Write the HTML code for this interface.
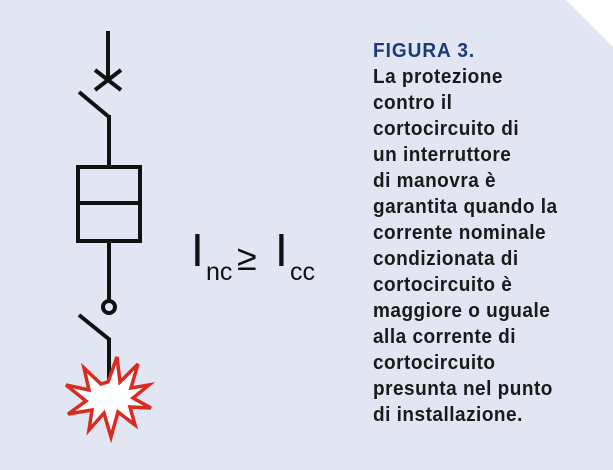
<!DOCTYPE html>
<html><head><meta charset="utf-8"><style>
html,body{margin:0;padding:0;background:#fff}
svg{display:block}
</style></head><body>
<svg width="613" height="470" viewBox="0 0 613 470" xmlns="http://www.w3.org/2000/svg">
<polygon points="0,0 566,0 613,47 613,470 0,470" fill="#e1e6f2"/>
<g stroke="#111" stroke-width="4" fill="none" stroke-linecap="butt">
<line x1="108" y1="31" x2="108" y2="80"/>
<line x1="95" y1="70" x2="121" y2="90"/>
<line x1="95" y1="90" x2="121" y2="70"/>
<line x1="79" y1="92" x2="109" y2="117"/>
<line x1="109" y1="115" x2="109" y2="167"/>
<rect x="78" y="167" width="62" height="74"/>
<line x1="78" y1="203" x2="140" y2="203"/>
<line x1="109" y1="241" x2="109" y2="300"/>
<circle cx="109" cy="307" r="6"/>
<line x1="79" y1="315" x2="110" y2="340"/>
<line x1="109" y1="338" x2="109" y2="385"/>
</g>
<polygon fill="#fff" stroke="#d92b1f" stroke-width="3.5" stroke-linejoin="miter" points="
108,382 117,357 120,382 138,364 131,388 149,385 133,398 151,408 130,407 135,425 118,412 111,437 104,413 89,430 92,410 68,414 86,401 66,385 89,390 84,368 101,384"/>
<g font-family="Liberation Sans, Arial, sans-serif" fill="#111">
<text x="191" y="266" font-size="46">I</text>
<text x="206" y="280" font-size="25">nc</text>
<text x="237" y="270" font-size="36">≥</text>
<text x="275" y="266" font-size="46">I</text>
<text x="290" y="280" font-size="25">cc</text>
</g>
<g font-family="Liberation Sans, Arial, sans-serif" font-weight="bold" font-size="19" fill="#1a1a1a" letter-spacing="0.5" transform="translate(373,0) scale(1,1.06)">
<text x="0" y="54" fill="#1c3a78" letter-spacing="1">FIGURA 3.</text>
<text x="0" y="78.5">La protezione</text>
<text x="0" y="103">contro il</text>
<text x="0" y="127.5">cortocircuito di</text>
<text x="0" y="152">un interruttore</text>
<text x="0" y="176.5">di manovra è</text>
<text x="0" y="201">garantita quando la</text>
<text x="0" y="225.5">corrente nominale</text>
<text x="0" y="250">condizionata di</text>
<text x="0" y="274.5">cortocircuito è</text>
<text x="0" y="299">maggiore o uguale</text>
<text x="0" y="323.5">alla corrente di</text>
<text x="0" y="348">cortocircuito</text>
<text x="0" y="372.5">presunta nel punto</text>
<text x="0" y="397">di installazione.</text>
</g>
</svg>
</body></html>
